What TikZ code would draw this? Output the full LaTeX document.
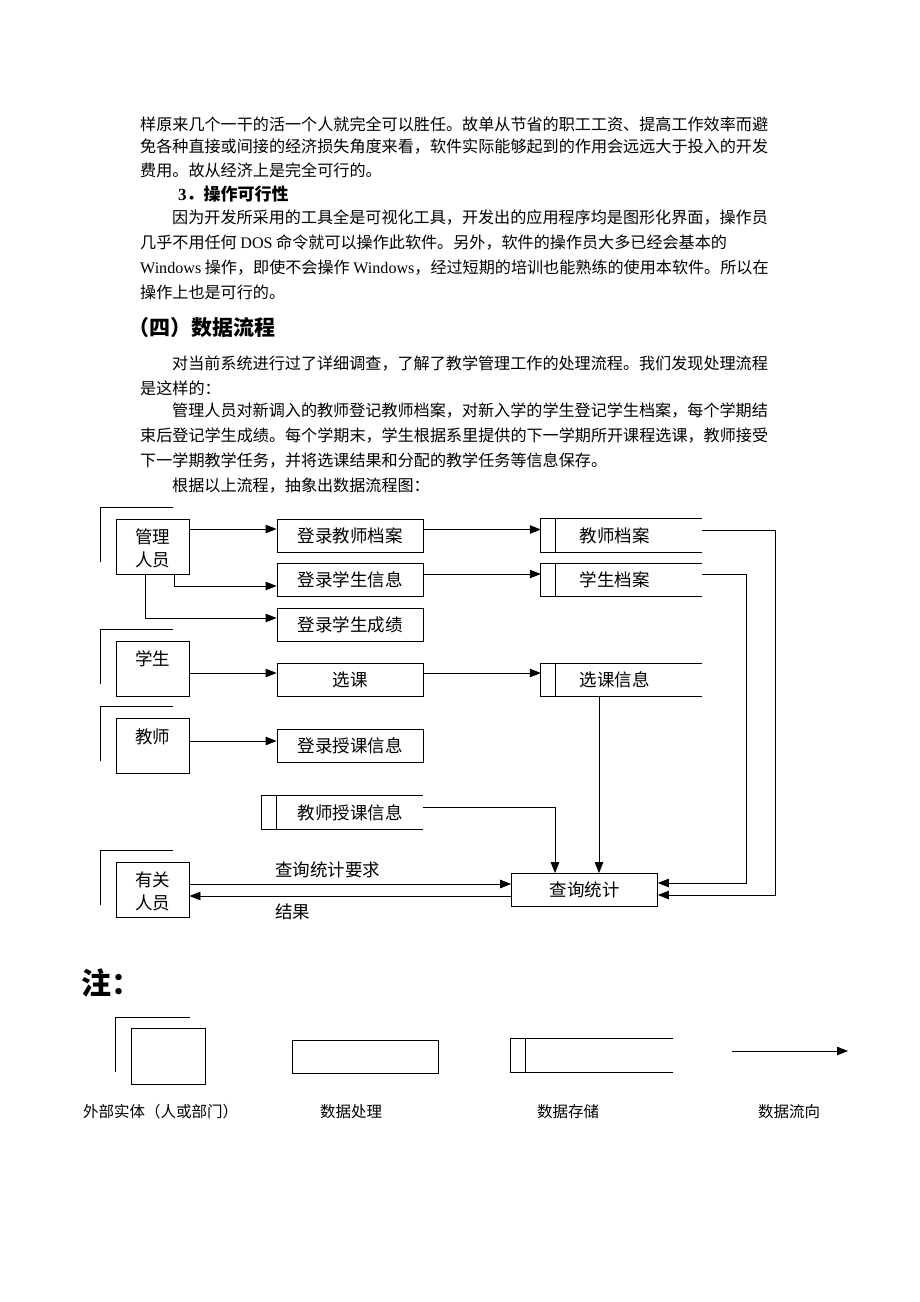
\documentclass[tikz,border=0pt]{standalone}
\usepackage{fontspec}
\setmainfont{Noto Sans CJK SC}
\newfontfamily\lat{Liberation Serif}
\usetikzlibrary{arrows.meta,calc}
\newcommand\storelines[1]{%
  \draw[line] (#1.north east) -- (#1.north west) -- (#1.south west) -- (#1.south east);
  \draw[line] ($(#1.north west)+(15,0)$) -- ($(#1.south west)+(15,0)$);}
\newcommand\entshadow[1]{%
  \draw[line] ($(#1.south west)+(-15,-12)$) |- ($(#1.north east)+(-16,-11)$);}
\begin{document}
\begin{tikzpicture}[x=1pt,y=-1pt,
  body/.style={anchor=west,inner sep=0pt,font=\fontsize{16.1}{18}\selectfont},
  line/.style={line width=0.8pt},
  arr/.style={line width=0.8pt,-{Triangle[length=11pt,width=8.5pt]}},
  proc/.style={draw,line width=0.8pt,minimum width=146pt,minimum height=33pt,inner sep=0pt,font=\fontsize{17.5}{20}\selectfont},
  ent/.style={draw,line width=0.8pt,minimum width=73pt,minimum height=55pt,inner sep=0pt},
  etext/.style={inner sep=0pt,align=center,font=\fontsize{17.5}{23}\selectfont},
  store/.style={minimum width=161pt,minimum height=33pt,inner sep=0pt,font=\fontsize{17.5}{20}\selectfont},
  lbl/.style={anchor=west,inner sep=0pt,font=\fontsize{17.5}{20}\selectfont},
  leg/.style={anchor=west,inner sep=0pt,font=\fontsize{15.5}{18}\selectfont}]
\useasboundingbox[fill=white] (0,0) rectangle (920,1302);

% ---- text ----
\node[body] (t1) at (140,124) {样原来几个一干的活一个人就完全可以胜任。故单从节省的职工工资、提高工作效率而避};
\node[body] (t2) at (140,147) {免各种直接或间接的经济损失角度来看，软件实际能够起到的作用会远远大于投入的开发};
\node[body] (t3) at (140,170) {费用。故从经济上是完全可行的。};
\node[anchor=west,inner sep=0pt,font=\fontsize{17}{20}\selectfont\bfseries] (h1) at (178,194) {{\lat\bfseries 3}．操作可行性};
\node[body] (t4) at (172,218) {因为开发所采用的工具全是可视化工具，开发出的应用程序均是图形化界面，操作员};
\node[body] (t5) at (140,242) {几乎不用任何 {\lat DOS} 命令就可以操作此软件。另外，软件的操作员大多已经会基本的};
\node[body] (t6) at (140,268) {{\lat Windows} 操作，即使不会操作 {\lat Windows}，经过短期的培训也能熟练的使用本软件。所以在};
\node[body] (t7) at (140,292) {操作上也是可行的。};
\node[anchor=west,inner sep=0pt,font=\fontsize{21}{24}\selectfont\bfseries] (h2) at (128,328) {（四）数据流程};
\node[body] (t8) at (172,364) {对当前系统进行过了详细调查，了解了教学管理工作的处理流程。我们发现处理流程};
\node[body] (t9) at (140,388) {是这样的：};
\node[body] (t10) at (172,411) {管理人员对新调入的教师登记教师档案，对新入学的学生登记学生档案，每个学期结};
\node[body] (t11) at (140,436) {束后登记学生成绩。每个学期末，学生根据系里提供的下一学期所开课程选课，教师接受};
\node[body] (t12) at (140,461) {下一学期教学任务，并将选课结果和分配的教学任务等信息保存。};
\node[body] (t13) at (172,486) {根据以上流程，抽象出数据流程图：};

% ---- entities ----
\node[ent] (m) at (152.5,546.5) {};
\node[etext] (mt) at (152.5,548.5) {管理\\人员};
\entshadow{m}
\node[ent] (st) at (152.5,668.5) {};
\node[etext] (stt) at (152.5,659) {学生};
\entshadow{st}
\node[ent] (te) at (152.5,745.5) {};
\node[etext] (tet) at (152.5,737) {教师};
\entshadow{te}
\node[ent] (r) at (152.5,889.5) {};
\node[etext] (rt) at (152.5,891) {有关\\人员};
\entshadow{r}

% ---- processes ----
\node[proc] (p1) at (350,535.5) {登录教师档案};
\node[proc] (p2) at (350,580) {登录学生信息};
\node[proc] (p3) at (350,624.5) {登录学生成绩};
\node[proc] (p4) at (350,679.5) {选课};
\node[proc] (p5) at (350,746) {登录授课信息};
\node[proc] (q) at (584.5,890) {查询统计};

% ---- stores ----
\node[store] (s1) at (621.5,535.5) {\hspace*{-14pt}教师档案};
\storelines{s1}
\node[store] (s2) at (621.5,580) {\hspace*{-14pt}学生档案};
\storelines{s2}
\node[store] (s3) at (621.5,680) {\hspace*{-14pt}选课信息};
\storelines{s3}
\node[store] (s4) at (342.5,812.5) {\hspace*{15pt}教师授课信息};
\storelines{s4}

% ---- flows ----
\draw[arr] ($(m.east)+(0,-17.5)$) coordinate (a1) -- (a1 -| p1.west);
\draw[arr] ($(p1.east)+(0,-6)$) coordinate (a2) -- (a2 -| s1.west);
\draw[arr] ($(m.south east)+(-15,0)$) |- ($(p2.west)+(0,6)$);
\draw[arr] ($(p2.east)+(0,-6)$) coordinate (a3) -- (a3 -| s2.west);
\draw[arr] ($(m.south)+(-7.5,0)$) |- ($(p3.west)+(0,-6.5)$);
\draw[arr] ($(st.east)+(0,4.5)$) coordinate (a4) -- (a4 -| p4.west);
\draw[arr] ($(p4.east)+(0,-6.5)$) coordinate (a5) -- (a5 -| s3.west);
\draw[arr] ($(te.east)+(0,-4.5)$) coordinate (a6) -- (a6 -| p5.west);
\draw[arr] ($(s4.east)+(0,-5.5)$) -| ($(q.north)+(-29.5,0)$);
\draw[arr] ($(s3.south)+(-22.5,0)$) coordinate (a7) -- (a7 |- q.north);
\coordinate (r1) at (775,530);
\coordinate (r2) at (746,574);
\draw[arr] (s1.east |- r1) -- (r1) |- ($(q.east)+(0,5)$);
\draw[arr] (s2.east |- r2) -- (r2) |- ($(q.east)+(0,-7)$);
\draw[arr] ($(r.east)+(0,-5.5)$) coordinate (a8) -- (a8 -| q.west);
\draw[arr] ($(q.west)+(0,6)$) coordinate (a9) -- (a9 -| r.east);
\node[lbl] (l1) at (275,870) {查询统计要求};
\node[lbl] (l2) at (275,912) {结果};

% ---- legend ----
\node[anchor=west,inner sep=0pt,font=\fontsize{30}{32}\selectfont\bfseries] (note) at (81,983) {注：};
\node[ent,minimum width=74pt,minimum height=56pt] (g1) at (168,1056) {};
\draw[line] ($(g1.south west)+(-15,-12)$) |- ($(g1.north east)+(-15,-10)$);
\node[proc] (g2) at (365,1056.5) {};
\node[store,minimum width=162pt] (g3) at (592,1055.5) {};
\storelines{g3}
\coordinate (ga) at (732,1051);
\coordinate (gb) at (848,1051);
\draw[arr] (ga) -- (gb);
\node[leg] (n1) at (83,1112) {外部实体（人或部门）};
\node[leg] (n2) at (320,1112) {数据处理};
\node[leg] (n3) at (537,1112) {数据存储};
\node[leg] (n4) at (758,1112) {数据流向};
\end{tikzpicture}
\end{document}
